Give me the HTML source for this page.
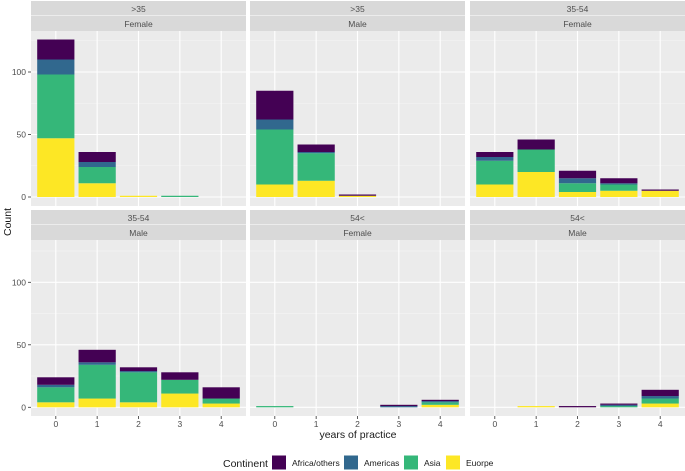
<!DOCTYPE html>
<html><head><meta charset="utf-8"><style>
body{margin:0;background:#fff}
svg{display:block;font-family:"Liberation Sans",sans-serif}
</style></head><body>
<svg id="chart" width="685" height="471"></svg>
<script>
const categories=[0,1,2,3,4];
const continents=["Africa/others","Americas","Asia","Euorpe"];
const colors=["#440154","#31688E","#35B779","#FDE725"];
const yTicks=[0,50,100];
const facetAge=[">35",">35","35-54","35-54","54<","54<"];
const facetSex=["Female","Male","Female","Male","Female","Male"];
// per facet, per category: [Europe, Asia, Americas, Africa] stacked bottom up
const europe=[[47,11,1,0,0],[10,13,1,0,0],[10,20,4,5,5],[4,7,4,11,3],[0,0,0,0,2],[0,1,0,0,3]];
const asia=[[51,13,0,1,0],[44,22,0,0,0],[19,18,7,5,0],[12,27,24,11,4],[1,0,0,0,2],[0,0,0,1,4]];
const americas=[[12,4,0,0,0],[8,1,0,0,0],[3,0,4,1,0],[2,2,1,0,0],[0,0,0,1,1],[0,0,0,1,2]];
const africa=[[16,8,0,0,0],[23,6,1,0,0],[4,8,6,4,1],[6,10,3,6,9],[0,0,0,1,1],[0,0,1,1,5]];

const svg=document.getElementById('chart');
const NS='http://www.w3.org/2000/svg';
function mk(tag,attrs,parent){const e=document.createElementNS(NS,tag);for(const k in attrs)e.setAttribute(k,attrs[k]);(parent||svg).appendChild(e);return e;}
const colX=[31,250,470], PW=215;
const rowTop=[1,210], stripH=30;
const rowY0=[197,407.3], rowBottom=[206,416];
const scale=1.25;
function yS(r,v){return rowY0[r]-v*scale;}
function xS(c,v){return colX[c]+(v+0.6)/5.2*PW;}
const bw=0.9/5.2*PW;

for(let f=0;f<6;f++){
  const r=Math.floor(f/3), c=f%3;
  const g=mk('g',{});
  
  
  const st=rowTop[r];
  const s1=mk('rect',{x:colX[c],y:st,width:PW,height:14,fill:'#d9d9d9'},g);
  
  mk('rect',{x:colX[c],y:st+14.5,width:PW,height:15.5,fill:'#d9d9d9'},g);
  let t=mk('text',{x:colX[c]+PW/2,y:st+11,'text-anchor':'middle','font-size':8.5,fill:'#4d4d4d'},g);t.textContent=facetAge[f];
  
  t=mk('text',{x:colX[c]+PW/2,y:st+26,'text-anchor':'middle','font-size':8.5,fill:'#4d4d4d'},g);t.textContent=facetSex[f];
  
  const pt=st+stripH, pb=rowBottom[r];
  const bg=mk('rect',{x:colX[c],y:pt,width:PW,height:pb-pt,fill:'#ebebeb'},g);
  
  [25,75,125].forEach(v=>mk('line',{x1:colX[c],x2:colX[c]+PW,y1:yS(r,v),y2:yS(r,v),stroke:'#f5f5f5','stroke-width':0.6},g));
  yTicks.forEach(v=>mk('line',{x1:colX[c],x2:colX[c]+PW,y1:yS(r,v),y2:yS(r,v),stroke:'#fff','stroke-width':1.1},g));
  categories.forEach(v=>mk('line',{x1:xS(c,v),x2:xS(c,v),y1:pt,y2:pb,stroke:'#fff','stroke-width':1.1},g));
  categories.forEach((cat,i)=>{
    const vals=[europe[f][i],asia[f][i],americas[f][i],africa[f][i]];
    const cols=[colors[3],colors[2],colors[1],colors[0]];
    const names=['europe','asia','americas','africa'];
    let cum=0;
    vals.forEach((v,k)=>{
      if(v<=0)return;
      const b=mk('rect',{x:xS(c,cat)-bw/2,y:yS(r,cum+v),width:bw,height:v*scale,fill:cols[k]},g);
      
      
      cum+=v;
    });
  });
  if(c===0){
    yTicks.forEach(v=>{
      mk('line',{x1:28,x2:31,y1:yS(r,v),y2:yS(r,v),stroke:'#333','stroke-width':0.8});
      const tl=mk('text',{x:26,y:yS(r,v)+3,'text-anchor':'end','font-size':8.5,fill:'#4d4d4d'});
      tl.textContent=v;
      
    });
  }
  if(r===1){
    categories.forEach(v=>{
      mk('line',{x1:xS(c,v),x2:xS(c,v),y1:416,y2:419,stroke:'#333','stroke-width':0.8});
      const tl=mk('text',{x:xS(c,v),y:427,'text-anchor':'middle','font-size':8.5,fill:'#4d4d4d'});
      tl.textContent=v;
      
    });
  }
}
let t=mk('text',{x:358,y:438,'text-anchor':'middle','font-size':10.5,fill:'#1a1a1a'});t.textContent='years of practice';

t=mk('text',{x:0,y:0,'text-anchor':'middle','font-size':10.5,fill:'#1a1a1a',transform:'translate(11,222) rotate(-90)'});t.textContent='Count';

t=mk('text',{x:223,y:467,'font-size':10.5,fill:'#1a1a1a'});t.textContent='Continent';

const keyX=[272,344,404,446];
continents.forEach((n,i)=>{
  const g=mk('g',{});
  
  
  mk('rect',{x:keyX[i],y:455.5,width:14,height:14,fill:colors[i]},g);
  const l=mk('text',{x:keyX[i]+20,y:466,'font-size':8.5,fill:'#1a1a1a'},g);l.textContent=n;
});
</script>
</body></html>
